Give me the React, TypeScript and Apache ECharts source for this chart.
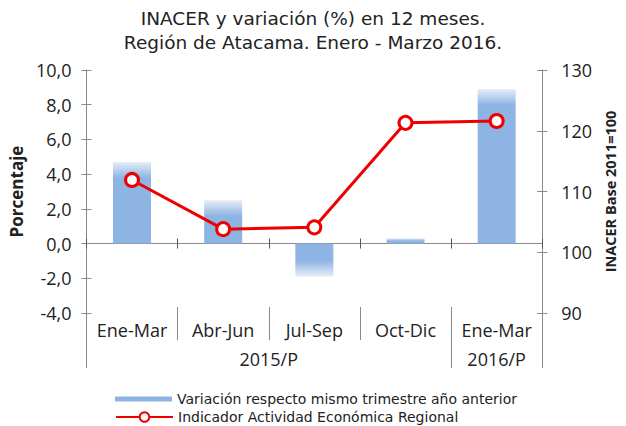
import React, { useEffect, useRef } from 'react';
import * as echarts from 'echarts';

const categories = ['Ene-Mar', 'Abr-Jun', 'Jul-Sep', 'Oct-Dic', 'Ene-Mar'];
const groupLabels = ['2015/P', '2016/P'];
const groupSpans = [4, 1];
const variacion = [4.7, 2.5, -1.9, 0.3, 8.9];
const inacer = [111.9, 103.8, 104.1, 121.3, 121.6];
const leftMin = -4, leftMax = 10, leftInterval = 2;
const rightMin = 90, rightMax = 130, rightInterval = 10;

const titleLines = ['INACER y variación (%) en 12 meses.', 'Región de Atacama. Enero - Marzo 2016.'];
const barName = 'Variación respecto mismo trimestre año anterior';
const lineName = 'Indicador Actividad Económica Regional';

const FONT = 'Open Sans';
const GRID = { left: 77, right: 69, top: 70, height: 243 };
const BAR = '#8db4e2';
const LIGHT = '#e6eef8';
const RED = '#ee0000';
const AXIS = '#8a8a8a';

export default function App() {
  const ref = useRef<HTMLDivElement>(null);
  useEffect(() => {
    if (!ref.current) return;
    const chart = echarts.init(ref.current, undefined, { renderer: 'svg' });
    const pxPerUnit = GRID.height / (leftMax - leftMin);
    const fadePx = 16;
    const barData = variacion.map((v) => {
      const h = Math.abs(v) * pxPerUnit;
      const f = Math.min(0.5, fadePx / h);
      const stops = v >= 0
        ? [{ offset: 0, color: LIGHT }, { offset: f, color: BAR }, { offset: 1, color: BAR }]
        : [{ offset: 0, color: BAR }, { offset: 1 - f, color: BAR }, { offset: 1, color: LIGHT }];
      return { value: v, itemStyle: { color: new echarts.graphic.LinearGradient(0, 0, 0, 1, stops) } };
    });
    // group axis: half-category points
    const total = groupSpans.reduce((a, b) => a + b, 0);
    const groupData: string[] = new Array(2 * total + 1).fill('');
    const boundaries = new Set<number>([2 * total]);
    let start = 0;
    groupSpans.forEach((s, i) => {
      groupData[2 * start + s] = groupLabels[i];
      boundaries.add(2 * start);
      start += s;
    });
    const txt = { fontFamily: FONT, color: '#222' };
    const legTxt = { fontFamily: 'DejaVu Sans', color: '#222', fontSize: 14, lineHeight: 14 };
    chart.setOption({
      animation: false,
      backgroundColor: '#fff',
      title: titleLines.map((t, i) => ({
        text: t,
        left: 'center',
        top: 8 + i * 24,
        padding: 0,
        textStyle: { fontFamily: 'DejaVu Sans', color: '#222', fontSize: 18.5, fontWeight: 'normal', lineHeight: 21 },
      })),
      grid: GRID,
      legend: [
        {
          data: [barName], orient: 'vertical', left: 115, top: 392, padding: 0,
          itemWidth: 57, itemHeight: 5, itemGap: 4,
          textStyle: legTxt, icon: 'rect',
        },
        {
          data: [lineName], orient: 'vertical', left: 115, top: 410, padding: 0,
          itemWidth: 57, itemHeight: 12, itemGap: 4,
          textStyle: legTxt,
        },
      ],
      xAxis: [
        {
          type: 'category', data: categories, gridIndex: 0, position: 'bottom',
          axisLine: { show: true, onZero: true, onZeroAxisIndex: 0, lineStyle: { color: AXIS } },
          axisTick: { show: true, length: 5, lineStyle: { color: '#555' } },
          axisLabel: { show: false },
        },
        {
          type: 'category', data: categories, gridIndex: 0, position: 'bottom',
          axisLine: { show: true, onZero: true, onZeroAxisIndex: 0, lineStyle: { color: AXIS } },
          axisTick: { show: true, inside: true, length: 5, lineStyle: { color: '#555' } },
          axisLabel: { show: false },
        },
        {
          type: 'category', data: categories, gridIndex: 0, position: 'bottom', offset: -6,
          axisLine: { show: false, onZero: false },
          axisTick: { show: true, length: 33, interval: 0, lineStyle: { color: AXIS } },
          axisLabel: { show: true, interval: 0, margin: 14, ...txt, fontSize: 18 },
        },
        {
          type: 'category', data: groupData, gridIndex: 0, position: 'bottom', boundaryGap: false,
          axisLine: { show: false, onZero: false },
          axisTick: { show: true, length: 55, interval: (i: number) => boundaries.has(i), lineStyle: { color: AXIS } },
          axisLabel: { show: true, interval: 0, margin: 37, ...txt, fontSize: 18 },
        },
      ],
      yAxis: [
        {
          type: 'value', position: 'left', min: leftMin, max: leftMax, interval: leftInterval,
          name: 'Porcentaje', nameLocation: 'middle', nameGap: 49, nameRotate: 90,
          nameTextStyle: { ...txt, fontSize: 17, fontWeight: 'bold' },
          axisLine: { show: true, lineStyle: { color: AXIS } },
          axisTick: { show: true, length: 5, lineStyle: { color: AXIS } },
          axisLabel: { ...txt, fontSize: 18, margin: 15, formatter: (v: number) => v.toFixed(1).replace('.', ',') },
          splitLine: { show: false },
        },
        {
          type: 'value', position: 'right', min: rightMin, max: rightMax, interval: rightInterval,
          name: 'INACER Base 2011=100', nameLocation: 'middle', nameGap: 47, nameRotate: 90,
          nameTextStyle: { ...txt, fontSize: 14.5, fontWeight: 'bold' },
          axisLine: { show: true, lineStyle: { color: AXIS } },
          axisTick: { show: true, length: 5, lineStyle: { color: AXIS } },
          axisLabel: { ...txt, fontSize: 18, margin: 19 },
          splitLine: { show: false },
        },
        {
          type: 'value', position: 'left', min: leftMin, max: leftMax, interval: leftInterval,
          axisLine: { show: false }, axisLabel: { show: false }, splitLine: { show: false },
          axisTick: { show: true, inside: true, length: 5, lineStyle: { color: AXIS } },
        },
        {
          type: 'value', position: 'right', min: rightMin, max: rightMax, interval: rightInterval,
          axisLine: { show: false }, axisLabel: { show: false }, splitLine: { show: false },
          axisTick: { show: true, inside: true, length: 5, lineStyle: { color: AXIS } },
        },
      ],
      series: [
        {
          name: barName, type: 'bar', xAxisIndex: 0, yAxisIndex: 0, barWidth: 38,
          itemStyle: { color: BAR }, data: barData, z: 1,
        },
        {
          name: lineName, type: 'line', xAxisIndex: 0, yAxisIndex: 1, data: inacer,
          symbol: 'circle', symbolSize: 13, z: 5,
          lineStyle: { color: RED, width: 3 },
          itemStyle: { color: '#fff', borderColor: RED, borderWidth: 3 },
        },
      ],
    });
    return () => chart.dispose();
  }, []);
  return <div ref={ref} style={{ position: 'fixed', left: 0, top: 0, width: 626, height: 426 }} />;
}
